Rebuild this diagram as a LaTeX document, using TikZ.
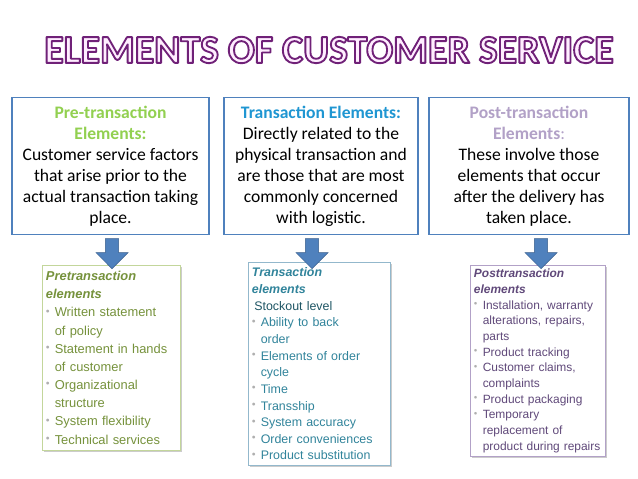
\documentclass[tikz,border=0pt]{standalone}
\usepackage{fontspec}
\setmainfont{Carlito}
\newfontfamily\listfont{Liberation Sans}
\usetikzlibrary{calc,shapes.arrows,shadows}
\definecolor{titlepurple}{RGB}{112,32,120}
\definecolor{boxblue}{RGB}{79,129,189}
\definecolor{arrowblue}{RGB}{79,129,189}
\definecolor{arrowedge}{RGB}{56,93,138}
\definecolor{pregreen}{RGB}{146,208,80}
\definecolor{transblue}{RGB}{31,150,210}
\definecolor{postpurple}{RGB}{178,161,199}
\definecolor{pretext}{RGB}{118,146,60}
\definecolor{preedge}{RGB}{195,214,155}
\definecolor{transtext}{RGB}{49,132,155}
\definecolor{transdark}{RGB}{30,85,100}
\definecolor{transedge}{RGB}{147,184,204}
\definecolor{posttext}{RGB}{96,73,122}
\definecolor{postedge}{RGB}{178,161,199}
\definecolor{bulletgray}{RGB}{175,175,175}
\newcommand{\bul}{\makebox[7.5pt][l]{\textcolor{bulletgray}{\raisebox{0.55ex}{\scalebox{0.6}{$\bullet$}}}}}
\newcommand{\nobul}{\hspace*{7.5pt}}
% outlined letters: pale fill, purple stroke
\newcommand{\outlined}[1]{\special{pdf:code 0.44 0.13 0.47 RG 1 0.93 1 rg 1.6 w 1 j 2 Tr}#1\special{pdf:code 0 Tr 0 g 0 G}}

\begin{document}
\begin{tikzpicture}[x=0.03cm, y=-0.03cm,
  topbox/.style={draw=boxblue, line width=1.1pt, fill=white, align=center,
    font=\fontsize{15}{18}\selectfont, minimum height=4.11cm, anchor=north,
    inner sep=2pt},
  listbox/.style={draw=#1, line width=0.8pt, fill=white,
    drop shadow={shadow xshift=1.5pt, shadow yshift=-1.5pt, fill=black!40, opacity=0.5},
    align=left, anchor=north west, inner xsep=3pt, inner ysep=3pt},
  downarrow/.style={single arrow, draw=arrowedge, fill=arrowblue, rotate=-90,
    anchor=tip, minimum height=0.9cm, inner sep=5.5pt,
    single arrow head extend=8pt, single arrow tip angle=90},
]
  \useasboundingbox (0,0) rectangle (638,479);

  % Title
  \node[font=\fontsize{34}{36}\bfseries] (title) at (329,50)
    {\outlined{ELEMENTS OF CUSTOMER SERVICE}};

  % Top boxes
  \node[topbox, minimum width=5.91cm] (pre) at (110.5,97)
    {\textcolor{pregreen}{\textbf{Pre-transaction}}\\
     \textcolor{pregreen}{\textbf{Elements:}}\\
     Customer service factors\\ that arise prior to the\\
     actual transaction taking\\ place.};
  \node[topbox, minimum width=5.82cm] (trans) at (321,97)
    {\textcolor{transblue}{\textbf{Transaction Elements:}}\\
     Directly related to the\\ physical transaction and\\
     are those that are most\\ commonly concerned\\ with logistic.};
  \node[topbox, minimum width=6.0cm] (post) at (529,97)
    {\textcolor{postpurple}{\textbf{Post-transaction}}\\
     \textcolor{postpurple}{\textbf{Elements}:}\\
     These involve those\\ elements that occur\\
     after the delivery has\\ taken place.};

  % Lower boxes
  \node[listbox=preedge, text width=3.93cm, minimum height=5.4cm, inner ysep=5pt,
    font=\listfont\fontsize{11}{15.5}\selectfont, text=pretext] (prelist) at (42,265)
    {\textbf{\textit{Pretransaction}}\\ \textbf{\textit{elements}}\\
     \bul Written statement\\ \nobul of policy\\
     \bul Statement in hands\\ \nobul of customer\\
     \bul Organizational\\ \nobul structure\\
     \bul System flexibility\\ \bul Technical services};
  \node[listbox=transedge, text width=4.05cm, minimum height=6.09cm, inner ysep=4.5pt,
    font=\listfont\fontsize{10.6}{14.2}\selectfont, text=transtext] (translist) at (248,262)
    {\textbf{\textit{Transaction}}\\ \textbf{\textit{elements}}\\
     \hspace*{2pt}\textcolor{transdark}{Stockout level}\\
     \bul Ability to back\\ \nobul order\\
     \bul Elements of order\\ \nobul cycle\\
     \bul Time\\ \bul Transship\\ \bul System accuracy\\
     \bul Order conveniences\\ \bul Product substitution};
  \node[listbox=postedge, text width=3.84cm, minimum height=5.7cm,
    font=\listfont\fontsize{10.2}{13.4}\selectfont, text=posttext] (postlist) at (470,265)
    {\textbf{\textit{Posttransaction}}\\ \textbf{\textit{elements}}\\
     \bul Installation, warranty\\ \nobul alterations, repairs,\\ \nobul parts\\
     \bul Product tracking\\
     \bul Customer claims,\\ \nobul complaints\\
     \bul Product packaging\\
     \bul Temporary\\ \nobul replacement of\\ \nobul product during repairs};

  % Arrows
  \node[downarrow] (a1) at (112,269) {};
  \node[downarrow] (a2) at (312,269) {};
  \node[downarrow] (a3) at (541,269) {};
\end{tikzpicture}
\end{document}
